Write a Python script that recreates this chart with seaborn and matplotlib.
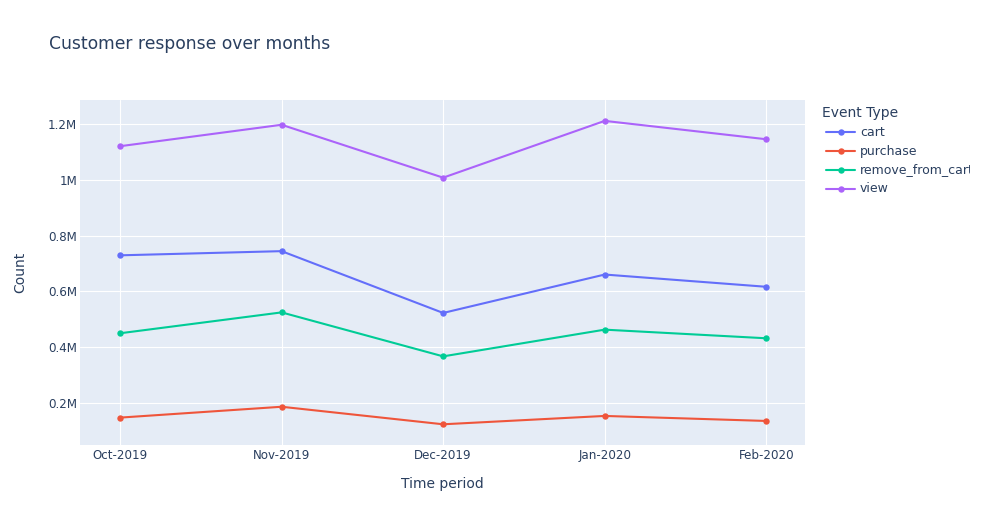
import matplotlib
matplotlib.use("Agg")
import matplotlib.pyplot as plt
import seaborn as sns
import pandas as pd
from matplotlib.ticker import FuncFormatter, FixedLocator
from matplotlib.lines import Line2D
from matplotlib.patches import Rectangle

months = ["Oct-2019", "Nov-2019", "Dec-2019", "Jan-2020", "Feb-2020"]
events = ["cart", "purchase", "remove_from_cart", "view"]
cart = [729000, 744000, 522000, 660000, 616000]
purchase = [146000, 185000, 122000, 152000, 134000]
remove_from_cart = [449000, 524000, 366000, 462000, 431000]
view = [1121000, 1198000, 1008000, 1212000, 1146000]
colors = ["#636EFA", "#EF553B", "#00CC96", "#AB63FA"]

rows = []
for ev, vals in zip(events, [cart, purchase, remove_from_cart, view]):
    for m, v in zip(months, vals):
        rows.append({"Time period": m, "Count": v, "Event Type": ev})
df = pd.DataFrame(rows)

sns.set_theme(style="white")
plt.rcParams['font.family'] = ['DejaVu Sans']
txt = "#2a3f5f"

fig = plt.figure(figsize=(9.81, 5.25), dpi=100)
ax = fig.add_axes([80/981, 1-445/525, 725/981, 345/525])
ax.set_facecolor("#E5ECF6")

sns.lineplot(data=df, x="Time period", y="Count", hue="Event Type",
             hue_order=events, palette=colors, marker="o", markersize=4.6,
             markeredgewidth=0, linewidth=1.5, ax=ax, legend=False, sort=False)

ax.set_xlim(-0.248, 4.24)
ax.set_ylim(47600, 1287000)
ax.yaxis.set_major_locator(FixedLocator([200000, 400000, 600000, 800000, 1000000, 1200000]))
ax.yaxis.set_major_formatter(FuncFormatter(lambda v, p: f"{v/1e6:g}M"))
ax.grid(True, color="white", linewidth=0.8)
ax.set_axisbelow(True)
for s in ax.spines.values():
    s.set_visible(False)
ax.tick_params(axis="both", length=0, labelsize=8.6, colors=txt)
ax.tick_params(axis="y", pad=2)
ax.tick_params(axis="x", pad=3)
ax.set_xlabel("Time period", fontsize=10, color=txt, labelpad=11)
ax.set_ylabel("Count", fontsize=10, color=txt, labelpad=15)

fig.text(49/981, 1-44/525, "Customer response over months", fontsize=12.3,
         color=txt, va="center", ha="left")

# legend
fig.text(822/981, 1-113/525, "Event Type", fontsize=10, color=txt, va="center", ha="left")
for i, (ev, c) in enumerate(zip(events, colors)):
    y = 1 - (132 + 19*i)/525
    fig.add_artist(Line2D([826/981, 855/981], [y, y], color=c, linewidth=1.5,
                          transform=fig.transFigure))
    fig.add_artist(Line2D([840.5/981], [y], color=c, marker="o", markersize=4.6,
                          markeredgewidth=0, transform=fig.transFigure))
    fig.text(860/981, y, ev, fontsize=9.0, color=txt, va="center", ha="left", zorder=1)

# legend area is clipped at its right edge, as in the original
fig.add_artist(Rectangle((969.5/981, 0), 12/981, 1, transform=fig.transFigure,
                         facecolor="white", edgecolor="none", zorder=5))

fig.savefig("out.png", dpi=100, facecolor="white")
